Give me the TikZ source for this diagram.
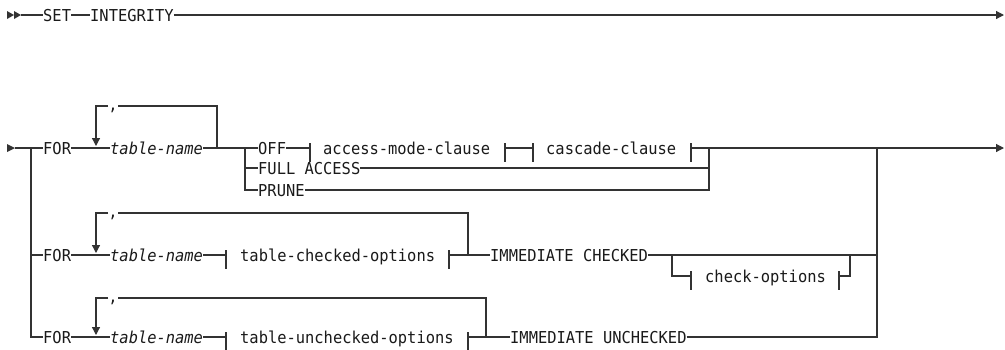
\documentclass[tikz,border=0pt]{standalone}
\usepackage{fontspec}
\setmonofont{DejaVu Sans Mono}[FakeStretch=0.94, ItalicFont={DejaVu Sans Mono Oblique}]
\usetikzlibrary{arrows.meta}
\definecolor{ln}{HTML}{333333}
\definecolor{tx}{HTML}{1a1a1a}
\tikzset{
  kw/.style={anchor=west, inner sep=0pt, text=tx,
    font=\ttfamily\fontsize{16.4}{19}\selectfont, text height=12.1pt, text depth=0pt},
  var/.style={kw, font=\ttfamily\itshape\fontsize{16.4}{19}\selectfont},
  comma/.style={anchor=base, inner sep=0pt, text=tx, font=\ttfamily\fontsize{16.4}{19}\selectfont},
  rail/.style={draw=ln, line width=1.2pt},
  tip/.style={-{Triangle[length=8pt,width=8pt]}},
}
\begin{document}
\begin{tikzpicture}[x=1pt,y=-1pt]
\useasboundingbox (0,0) rectangle (1005,349);
\fill[white] (0,0) rectangle (1005,349);

% ---------- top row ----------
\fill[ln] (7,11) -- (14,15) -- (7,19) -- cycle;
\fill[ln] (14,11) -- (21,15) -- (14,19) -- cycle;
\coordinate (s0) at (21,15);
\node[kw] (set) at (43,15) {SET};
\node[kw] (integ) at (90,15) {INTEGRITY};
\coordinate (e0) at (1004,15);
\draw[rail] (s0) -- (set.west);
\draw[rail] (set.east) -- (integ.west);
\draw[rail,tip] (integ.east) -- (e0);

% ---------- row 1 ----------
\fill[ln] (7,144) -- (15,148) -- (7,152) -- cycle;
\coordinate (s1) at (15,148);
\coordinate (L1) at (31,148);
\node[kw] (for1) at (43,148) {FOR};
\node[var] (tn1) at (110,148) {table-name};
\coordinate (lp1) at (217,148);
\coordinate (lt1) at (217,106);
\node[comma] (cm1) at (113,110) {,};
\coordinate (ar1) at (96,146);
\coordinate (br1) at (245,148);
\node[kw] (off) at (258,148) {OFF};
\coordinate (b11) at (310,148);
\node[kw] (amc) at (323,148) {access-mode-clause};
\coordinate (b12) at (505,148);
\coordinate (b13) at (533,148);
\node[kw] (cc) at (546,148) {cascade-clause};
\coordinate (b14) at (691,148);
\node[kw] (fa) at (258,168) {FULL ACCESS};
\node[kw] (pr) at (258,190) {PRUNE};
\coordinate (jn1) at (709,148);
\coordinate (R) at (877,148);
\coordinate (end1) at (1004,148);

\draw[rail] (s1) -- (for1.west);
\draw[rail] (for1.east) -- (tn1.west);
\draw[rail] (tn1.east) -- (br1);
\draw[rail] (lp1) -- (lt1) -- (cm1.east |- lt1);
\draw[rail,tip] (cm1.west |- lt1) -| (ar1);
\draw[rail] (br1) -- (off.west);
\draw[rail] (br1) |- (pr.west);
\draw[rail] (br1 |- fa) -- (fa.west);
\draw[rail] (off.east) -- (b11);
\draw[rail] (b11) ++(0,-5) -- ++(0,19);
\draw[rail] (b12) ++(0,-5) -- ++(0,19);
\draw[rail] (b12) -- (b13);
\draw[rail] (b13) ++(0,-5) -- ++(0,19);
\draw[rail] (b14) ++(0,-5) -- ++(0,19);
\draw[rail] (b14) -- (jn1) -- (R);
\draw[rail,tip] (R) -- (end1);
\draw[rail] (fa.east) -- (jn1 |- fa);
\draw[rail] (pr.east) -| (jn1);

% ---------- row 2 ----------
\node[kw] (for2) at (43,255) {FOR};
\node[var] (tn2) at (110,255) {table-name};
\coordinate (lt2) at (468,213);
\node[comma] (cm2) at (113,217) {,};
\coordinate (ar2) at (96,253);
\coordinate (b21) at (226,255);
\node[kw] (tco) at (240,255) {table-checked-options};
\coordinate (b22) at (449,255);
\coordinate (lp2) at (468,255);
\node[kw] (ic) at (490,255) {IMMEDIATE CHECKED};
\coordinate (j2) at (672,255);
\coordinate (b23) at (691,276);
\node[kw] (co) at (705,276) {check-options};
\coordinate (b24) at (839,276);
\coordinate (j3) at (850,276);
\coordinate (R2) at (877,255);

\draw[rail] (L1 |- for2) -- (for2.west);
\draw[rail] (for2.east) -- (tn2.west);
\draw[rail] (tn2.east) -- (b21);
\draw[rail] (b21) ++(0,-5) -- ++(0,19);
\draw[rail] (b22) ++(0,-5) -- ++(0,19);
\draw[rail] (b22) -- (lp2) -- (ic.west);
\draw[rail] (lp2) -- (lt2) -- (cm2.east |- lt2);
\draw[rail,tip] (cm2.west |- lt2) -| (ar2);
\draw[rail] (ic.east) -- (j2) -- (R2);
\draw[rail] (j2) |- (b23);
\draw[rail] (b23) ++(0,-5) -- ++(0,19);
\draw[rail] (b24) ++(0,-5) -- ++(0,19);
\draw[rail] (b24) -- (j3) -- (j3 |- j2);

% ---------- row 3 ----------
\node[kw] (for3) at (43,337) {FOR};
\node[var] (tn3) at (110,337) {table-name};
\coordinate (lt3) at (486,298);
\node[comma] (cm3) at (113,302) {,};
\coordinate (ar3) at (96,335);
\coordinate (b31) at (226,337);
\node[kw] (tuo) at (240,337) {table-unchecked-options};
\coordinate (b32) at (468,337);
\coordinate (lp3) at (486,337);
\node[kw] (iu) at (510,337) {IMMEDIATE UNCHECKED};
\coordinate (R3) at (877,337);

\draw[rail] (L1) |- (for3.west);
\draw[rail] (for3.east) -- (tn3.west);
\draw[rail] (tn3.east) -- (b31);
\draw[rail] (b31) ++(0,-5) -- ++(0,19);
\draw[rail] (b32) ++(0,-5) -- ++(0,19);
\draw[rail] (b32) -- (lp3) -- (iu.west);
\draw[rail] (lp3) -- (lt3) -- (cm3.east |- lt3);
\draw[rail,tip] (cm3.west |- lt3) -| (ar3);
\draw[rail] (iu.east) -- (R3) -- (R);
\end{tikzpicture}
\end{document}
